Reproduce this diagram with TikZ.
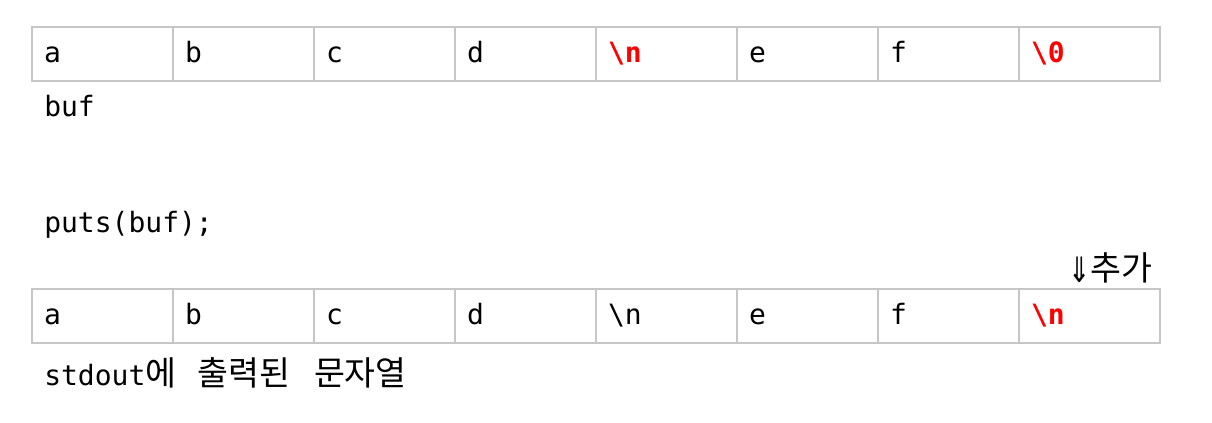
\documentclass[tikz,border=0pt]{standalone}
\usepackage{fontspec}
\usepackage{tikz}
\setmainfont{DejaVu Sans Mono}
\newfontfamily\krfont[Scale=1.2]{Noto Sans CJK KR}
\newfontfamily\symfont{DejaVu Sans}
\definecolor{cellgray}{HTML}{C6C6C6}
\newcommand{\ctrlch}[1]{{\bfseries\color{red}\textbackslash #1}}

\begin{document}
\begin{tikzpicture}[x=0.75pt,y=-0.75pt,
  cellbox/.style={draw=cellgray,line width=1.5pt,outer sep=0pt,anchor=north west,
    minimum width=105.75pt,minimum height=40.5pt,inner xsep=9pt,inner ysep=0pt,
    text width=87.75pt,align=left,text height=16pt,text depth=2.5pt,
    font=\fontsize{21}{25}\selectfont},
  caption/.style={anchor=base west,inner sep=0pt,font=\fontsize{21}{25}\selectfont}]
  \useasboundingbox (0,0) rectangle (1212,423);

  % Draw the buffer
  \foreach \ch [count=\i from 0] in {a,b,c,d,\ctrlch{n},e,f,\ctrlch{0}} {
    \node[cellbox] (buf\i) at ({32+141*\i},27) {\ch};
  }
  \node[caption] (bufname) at (44,117) {buf};

  % Call
  \node[caption] (call) at (44,233) {puts(buf);};

  % Draw the output
  \foreach \ch [count=\i from 0] in {a,b,c,d,\textbackslash n,e,f,\ctrlch{n}} {
    \node[cellbox] (out\i) at ({32+141*\i},289) {\ch};
  }
  \node[caption,anchor=base east] (added) at (1153,281)
    {\raisebox{-1pt}{\symfont\scalebox{0.95}[1.25]{⇓}}{\krfont 추가}};
  \node[caption] (outname) at (44,385)
    {stdout{\krfont 에} \hspace{3.5pt}{\krfont 출력된} \hspace{5pt}{\krfont 문자열}};

\end{tikzpicture}
\end{document}
